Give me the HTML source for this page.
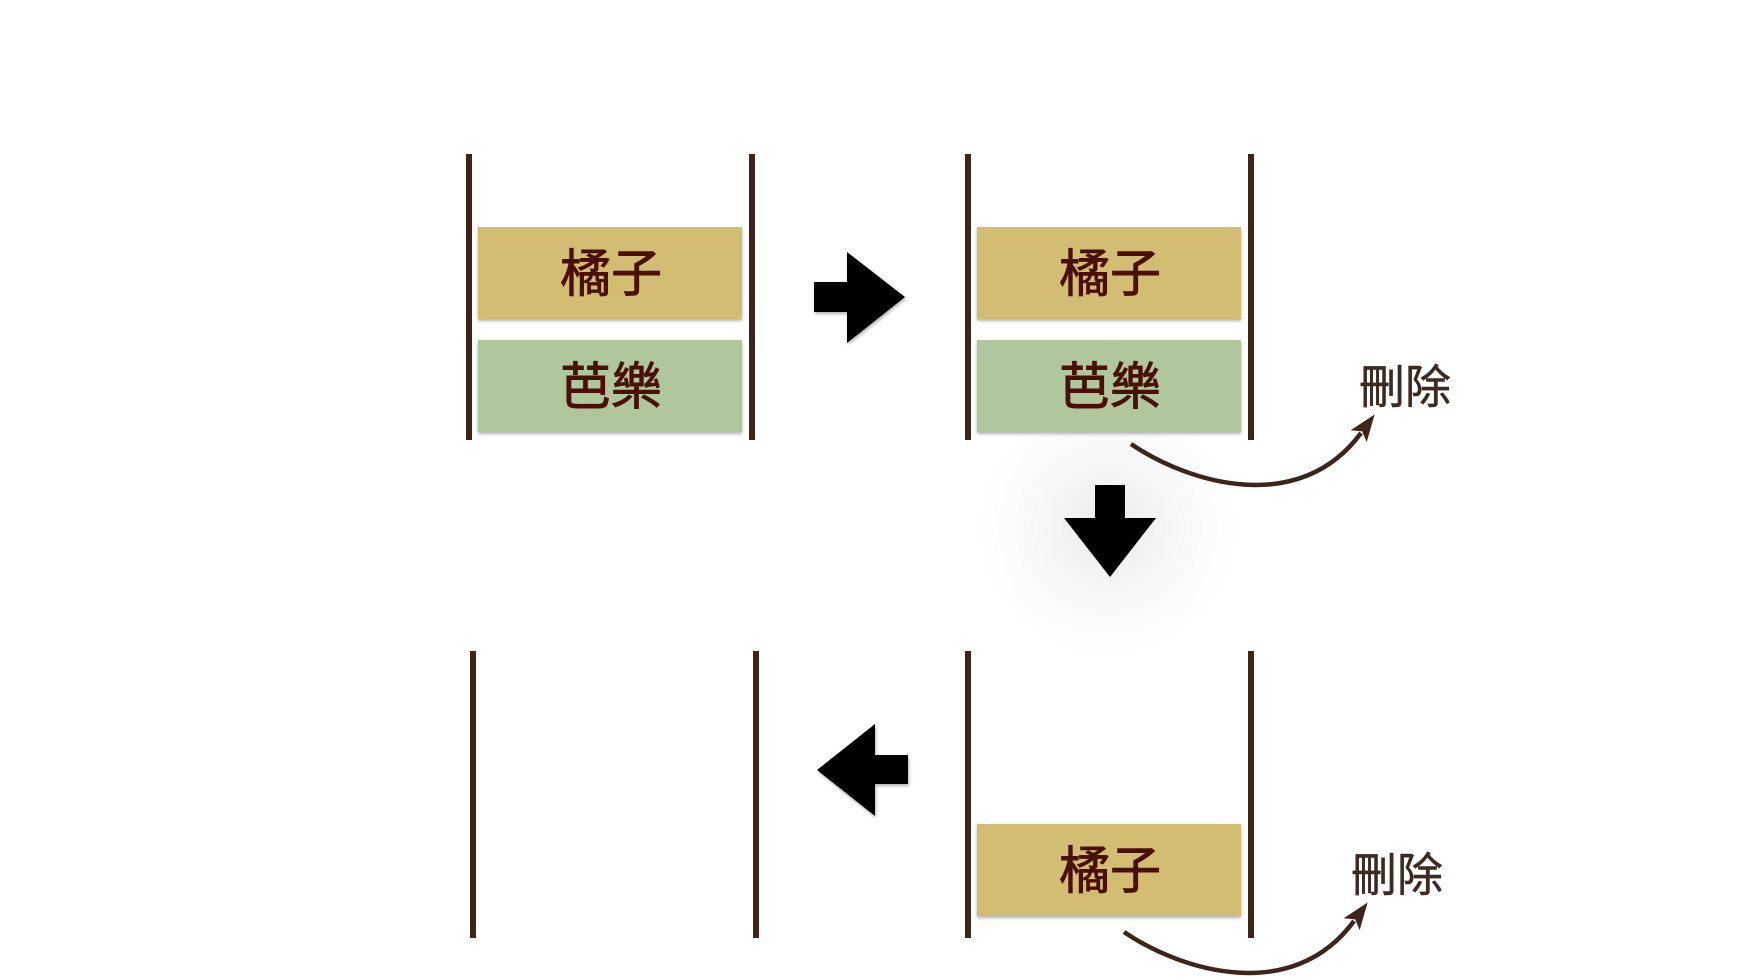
<!DOCTYPE html>
<html>
<head>
<meta charset="utf-8">
<style>
  html, body { margin: 0; padding: 0; background: #ffffff; }
  body { width: 1738px; height: 978px; overflow: hidden; position: relative; }
  svg { position: absolute; left: 0; top: 0; }
  .t { font-family: "Liberation Sans", "Noto Sans CJK TC", "Noto Sans CJK SC", sans-serif; }
  .bx { stroke: #4a0f08; stroke-width: 0.9; }
</style>
</head>
<body>
<svg width="1738" height="978" viewBox="0 0 1738 978" xmlns="http://www.w3.org/2000/svg">
  <defs>
    <radialGradient id="glow" cx="1108" cy="528" r="130" gradientUnits="userSpaceOnUse">
      <stop offset="0" stop-color="#000" stop-opacity="0.075"/>
      <stop offset="0.6" stop-color="#000" stop-opacity="0.025"/>
      <stop offset="1" stop-color="#000" stop-opacity="0"/>
    </radialGradient>
    <filter id="bsh" x="-5%" y="-10%" width="110%" height="130%">
      <feGaussianBlur in="SourceAlpha" stdDeviation="1.5"/>
      <feOffset dx="0" dy="2" result="b"/>
      <feComponentTransfer><feFuncA type="linear" slope="0.3"/></feComponentTransfer>
      <feMerge><feMergeNode/><feMergeNode in="SourceGraphic"/></feMerge>
    </filter>
    <filter id="ash" x="-10%" y="-10%" width="130%" height="130%">
      <feGaussianBlur in="SourceAlpha" stdDeviation="1.5"/>
      <feOffset dx="1" dy="2" result="b"/>
      <feComponentTransfer><feFuncA type="linear" slope="0.3"/></feComponentTransfer>
      <feMerge><feMergeNode/><feMergeNode in="SourceGraphic"/></feMerge>
    </filter>
    <marker id="ah" markerUnits="userSpaceOnUse" markerWidth="32" markerHeight="32" refX="4" refY="11" orient="auto">
      <path d="M0,1 L27,11 L0,21 L6,11 Z" fill="#3e2419"/>
    </marker>
  </defs>

  <!-- glow behind down arrow -->
  <circle cx="1108" cy="528" r="130" fill="url(#glow)"/>

  <!-- ===== Top-left stack ===== -->
  <rect x="466" y="154" width="6" height="286" fill="#3e2419"/>
  <rect x="749" y="154" width="6" height="286" fill="#3e2419"/>
  <rect x="478" y="227" width="264" height="92" fill="#d2bd73" filter="url(#bsh)"/>
  <rect x="478" y="340" width="264" height="92" fill="#b0c69c" filter="url(#bsh)"/>
  <text class="t bx" x="611" y="274" font-size="51" fill="#4a0f08" text-anchor="middle" dominant-baseline="central">橘子</text>
  <text class="t bx" x="611" y="387" font-size="51" fill="#4a0f08" text-anchor="middle" dominant-baseline="central">芭樂</text>

  <!-- Right arrow -->
  <path d="M814,282 L847,282 L847,252 L905,297 L847,343 L847,312 L814,312 Z" fill="#000" filter="url(#ash)"/>

  <!-- ===== Top-right stack ===== -->
  <rect x="965" y="154" width="6" height="286" fill="#3e2419"/>
  <rect x="1248" y="154" width="6" height="286" fill="#3e2419"/>
  <rect x="977" y="227" width="264" height="92" fill="#d2bd73" filter="url(#bsh)"/>
  <rect x="977" y="340" width="264" height="92" fill="#b0c69c" filter="url(#bsh)"/>
  <text class="t bx" x="1110" y="274" font-size="51" fill="#4a0f08" text-anchor="middle" dominant-baseline="central">橘子</text>
  <text class="t bx" x="1110" y="387" font-size="51" fill="#4a0f08" text-anchor="middle" dominant-baseline="central">芭樂</text>

  <!-- delete label + curve (top) -->
  <text class="t" x="1405" y="387" font-size="46" fill="#3d2a20" stroke="#3d2a20" stroke-width="0.5" text-anchor="middle" dominant-baseline="central">刪除</text>
  <path d="M1131,444 C1190,484 1300,516 1361,433" fill="none" stroke="#3e2419" stroke-width="4.5" marker-end="url(#ah)"/>

  <!-- Down arrow -->
  <path d="M1095,485 L1125,485 L1125,518 L1156,518 L1110,577 L1064,518 L1095,518 Z" fill="#000"/>

  <!-- ===== Bottom-left stack ===== -->
  <rect x="470" y="651" width="6" height="287" fill="#3e2419"/>
  <rect x="753" y="651" width="6" height="287" fill="#3e2419"/>

  <!-- Left arrow -->
  <path d="M908,755 L875,755 L875,724 L817,770 L875,816 L875,784 L908,784 Z" fill="#000" filter="url(#ash)"/>

  <!-- ===== Bottom-right stack ===== -->
  <rect x="965" y="651" width="6" height="287" fill="#3e2419"/>
  <rect x="1248" y="651" width="6" height="287" fill="#3e2419"/>
  <rect x="977" y="824" width="264" height="92" fill="#d2bd73" filter="url(#bsh)"/>
  <text class="t bx" x="1110" y="871" font-size="51" fill="#4a0f08" text-anchor="middle" dominant-baseline="central">橘子</text>

  <!-- delete label + curve (bottom) -->
  <text class="t" x="1397" y="875" font-size="46" fill="#3d2a20" stroke="#3d2a20" stroke-width="0.5" text-anchor="middle" dominant-baseline="central">刪除</text>
  <path d="M1124,932 C1183,972 1293,1004 1354,921" fill="none" stroke="#3e2419" stroke-width="4.5" marker-end="url(#ah)"/>
</svg>
</body>
</html>
